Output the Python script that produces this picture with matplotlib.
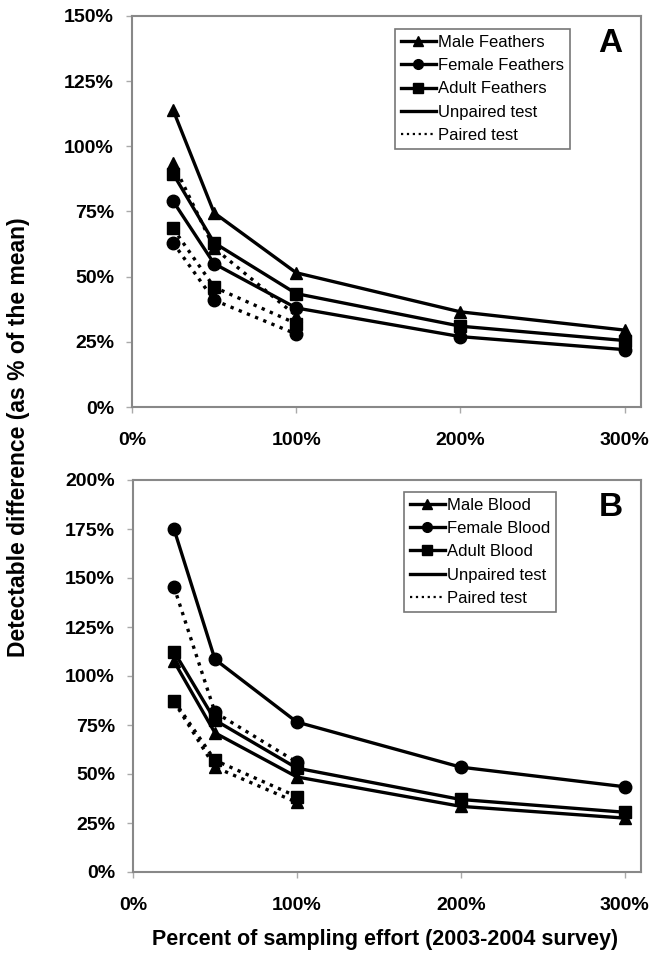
import numpy as np
import matplotlib.pyplot as plt
from matplotlib.lines import Line2D
from matplotlib.ticker import FuncFormatter, MultipleLocator

plt.rcParams['font.family'] = ['Liberation Sans', 'DejaVu Sans']

# sampling effort (% of 2003-2004 survey)
effort_unpaired = [25, 50, 100, 200, 300]
effort_paired = [25, 50, 100]

# Panel A - feathers
male_feathers_unpaired = [114, 74.5, 51.5, 36.5, 29.5]
female_feathers_unpaired = [79, 55, 38, 27, 22]
adult_feathers_unpaired = [89.5, 63, 43.5, 31, 25.5]
male_feathers_paired = [93.5, 61, 35]
female_feathers_paired = [63, 41, 28]
adult_feathers_paired = [68.5, 46, 32]

# Panel B - blood
male_blood_unpaired = [107.5, 71, 48.5, 33.5, 27.5]
female_blood_unpaired = [175, 108.5, 76.5, 53.5, 43.5]
adult_blood_unpaired = [112.5, 77.5, 53, 37, 30.5]
male_blood_paired = [87, 53.5, 35.5]
female_blood_paired = [145.5, 81.5, 56]
adult_blood_paired = [87.5, 57, 38.5]

fig = plt.figure(figsize=(6.53, 9.6), dpi=100)
axA = fig.add_axes([132/653, 1-407/960, 509/653, 391/960])
axB = fig.add_axes([133/653, 1-872/960, 508/653, 392/960])

lw = 2.4
ms = 9


def draw(ax, unpaired, paired, names, letter, ymax, leg_anchor):
    markers = ['^', 'o', 's']
    for vals, m in zip(paired, markers):
        ax.plot(effort_paired, vals, color='black', ls=':', lw=lw, marker=m, ms=ms)
    for vals, m in zip(unpaired, markers):
        ax.plot(effort_unpaired, vals, color='black', ls='-', lw=lw, marker=m, ms=ms)

    ax.set_xlim(0, 310)
    ax.set_ylim(0, ymax)
    ax.xaxis.set_major_locator(MultipleLocator(100))
    ax.yaxis.set_major_locator(MultipleLocator(25))
    pct = FuncFormatter(lambda v, p: f"{v:.0f}%")
    ax.xaxis.set_major_formatter(pct)
    ax.yaxis.set_major_formatter(pct)
    for s in ax.spines.values():
        s.set_color('#888888')
        s.set_linewidth(1.5)
    ax.tick_params(direction='out', length=4, color='#aaaaaa', width=1,
                   labelsize=14, pad=9)
    for lab in ax.get_xticklabels() + ax.get_yticklabels():
        lab.set_fontweight('bold')
    ax.tick_params(axis='x', pad=14)

    handles = [Line2D([], [], color='black', lw=lw, marker=m, ms=7) for m in markers]
    handles += [Line2D([], [], color='black', lw=lw, ls='-'),
                Line2D([], [], color='black', lw=1.6, ls=':')]
    labels = names + ['Unpaired test', 'Paired test']
    leg = ax.legend(handles, labels, loc='upper left', bbox_to_anchor=leg_anchor,
                    fontsize=12, frameon=True, fancybox=False, edgecolor='#555555',
                    handlelength=2.1, handletextpad=0.15, labelspacing=0.5,
                    borderpad=0.35, borderaxespad=0)
    leg.get_frame().set_linewidth(1.2)
    ax.text(0.94, 0.93, letter, transform=ax.transAxes, fontsize=24,
            fontweight='bold', ha='center', va='center')


draw(axA,
     [male_feathers_unpaired, female_feathers_unpaired, adult_feathers_unpaired],
     [male_feathers_paired, female_feathers_paired, adult_feathers_paired],
     ['Male Feathers', 'Female Feathers', 'Adult Feathers'], 'A', 150,
     (0.517, 0.967))
draw(axB,
     [male_blood_unpaired, female_blood_unpaired, adult_blood_unpaired],
     [male_blood_paired, female_blood_paired, adult_blood_paired],
     ['Male Blood', 'Female Blood', 'Adult Blood'], 'B', 200,
     (0.533, 0.97))

fig.text(19/653, 1-437/960, 'Detectable difference (as % of the mean)',
         rotation=90, ha='center', va='center', fontsize=16.5, fontweight='bold')
fig.text(385/653, 1-940/960, 'Percent of sampling effort (2003-2004 survey)',
         ha='center', va='center', fontsize=15.5, fontweight='bold')

fig.savefig('out.png', dpi=100)
